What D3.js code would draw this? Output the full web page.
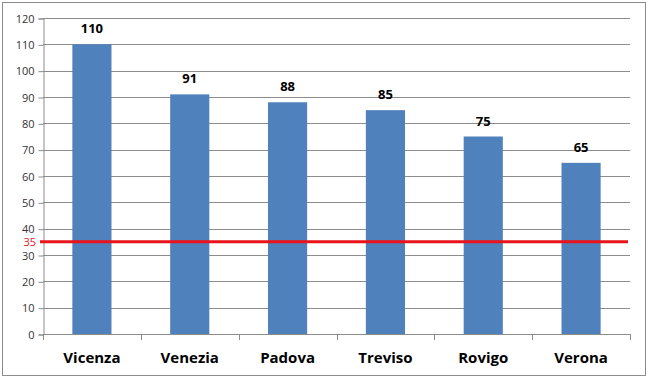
<!DOCTYPE html>
<html>
<head>
<meta charset="utf-8">
<script src="https://cdn.jsdelivr.net/npm/d3@7"></script>
<style>
  body { margin: 0; background: #fff; }
  svg { font-family: "Open Sans", "Liberation Sans", sans-serif; }
</style>
</head>
<body>
<svg id="chart" width="650" height="382"></svg>
<script>
// Chart data
const cities = ['Vicenza', 'Venezia', 'Padova', 'Treviso', 'Rovigo', 'Verona'];
const values = [110, 91, 88, 85, 75, 65];
const yTicks = [0, 10, 20, 30, 40, 50, 60, 70, 80, 90, 100, 110, 120];
const threshold = 35;

const svg = d3.select('#chart');
const margin = { left: 43, right: 20, top: 18, bottom: 48 };
const width = 650, height = 382;

// outer border
svg.append('rect')
    .attr('x', 2.5).attr('y', 2.5)
    .attr('width', 643).attr('height', 373)
    .attr('fill', '#fff').attr('stroke', '#8c8c8c');

const x = d3.scaleBand()
    .domain(cities)
    .range([margin.left, width - margin.right])
    .paddingInner(0.6).paddingOuter(0.3);

const y = d3.scaleLinear()
    .domain([0, 120])
    .range([height - margin.bottom, margin.top]);

// gridlines
svg.append('g')
    .selectAll('line')
    .data(yTicks.filter(d => d > 0))
    .join('line')
    .attr('x1', margin.left).attr('x2', width - margin.right)
    .attr('y1', d => Math.round(y(d)) + 0.5).attr('y2', d => Math.round(y(d)) + 0.5)
    .attr('stroke', '#8c8c8c');

// y axis
const yAxis = svg.append('g')
    .attr('transform', `translate(${margin.left + 0.5},0.5)`)
    .call(d3.axisLeft(y).tickValues(yTicks).tickSize(5).tickPadding(4));
yAxis.select('.domain').attr('stroke', '#8c8c8c');
yAxis.selectAll('.tick line').attr('stroke', '#8c8c8c');
yAxis.selectAll('.tick text').attr('font-size', 11).attr('fill', '#333')
    .attr('font-family', '"Open Sans", sans-serif');

// bars
svg.append('g')
    .selectAll('rect')
    .data(values)
    .join('rect')
    .attr('x', (d, i) => x(cities[i]))
    .attr('y', d => y(d))
    .attr('width', x.bandwidth())
    .attr('height', d => y(0) - y(d))
    .attr('fill', '#4f81bd');

// value labels
svg.append('g')
    .selectAll('text')
    .data(values)
    .join('text')
    .attr('x', (d, i) => x(cities[i]) + x.bandwidth() / 2)
    .attr('y', d => y(d) - 11)
    .attr('text-anchor', 'middle')
    .attr('font-size', 13)
    .attr('font-weight', 'bold')
    .attr('fill', '#000')
    .text(d => d);

// x axis with ticks at band boundaries
const xLeft = margin.left;
const xg = svg.append('g');
xg.append('line')
    .attr('x1', xLeft).attr('x2', width - margin.right)
    .attr('y1', y(0) + 0.5).attr('y2', y(0) + 0.5)
    .attr('stroke', '#8c8c8c');
xg.selectAll('line.tk')
    .data(d3.range(cities.length + 1))
    .join('line')
    .attr('class', 'tk')
    .attr('x1', i => Math.round(xLeft + i * (width - margin.right - xLeft) / cities.length) + 0.5)
    .attr('x2', i => Math.round(xLeft + i * (width - margin.right - xLeft) / cities.length) + 0.5)
    .attr('y1', y(0)).attr('y2', y(0) + 6)
    .attr('stroke', '#8c8c8c');
xg.selectAll('text')
    .data(cities)
    .join('text')
    .attr('x', d => x(d) + x.bandwidth() / 2)
    .attr('y', y(0) + 29)
    .attr('text-anchor', 'middle')
    .attr('font-size', 15)
    .attr('font-weight', 'bold')
    .attr('fill', '#000')
    .text(d => d);

// threshold line
svg.append('line')
    .attr('x1', margin.left - 3).attr('x2', width - margin.right - 2)
    .attr('y1', y(threshold)).attr('y2', y(threshold))
    .attr('stroke', '#e8131b').attr('stroke-width', 3);
svg.append('text')
    .attr('x', 36).attr('y', y(threshold) + 4)
    .attr('text-anchor', 'end')
    .attr('font-size', 11)
    .attr('fill', '#e8131b')
    .text(threshold);
</script>
</body>
</html>
